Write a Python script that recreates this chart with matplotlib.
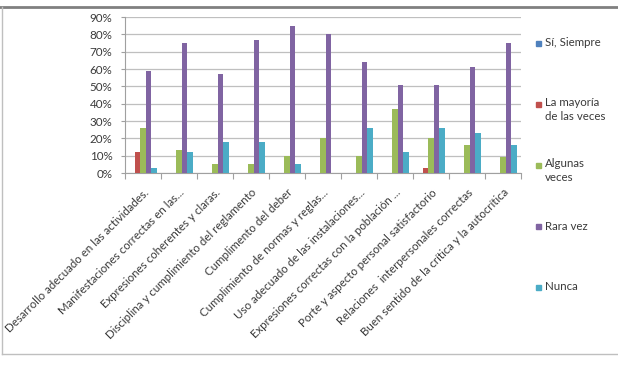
import numpy as np
import matplotlib
matplotlib.use("Agg")
import matplotlib.pyplot as plt
from matplotlib.patches import Rectangle
from matplotlib.lines import Line2D

plt.rcParams['font.family'] = ['Lato', 'DejaVu Sans']

categories = [
    "Desarrollo adecuado en las actividades.",
    "Manifestaciones correctas en las...",
    "Expresiones coherentes y claras.",
    "Disciplina y cumplimiento del reglamento",
    "Cumplimento del deber",
    "Cumplimiento de normas y reglas...",
    "Uso adecuado de las instalaciones...",
    "Expresiones correctas con la población ...",
    "Porte y aspecto personal satisfactorio",
    "Relaciones  interpersonales correctas",
    "Buen sentido de la crítica y la autocrítica",
]
series_names = ["Sí, Siempre", "La mayoría\nde las veces", "Algunas\nveces", "Rara vez", "Nunca"]
si_siempre = [0, 0, 0, 0, 0, 0, 0, 0, 0, 0, 0]
la_mayoria = [12, 0, 0, 0, 0, 0, 0, 0, 3, 0, 0]
algunas    = [26, 13, 5, 5, 10, 20, 10, 37, 20, 16, 9]
rara_vez   = [59, 75, 57, 77, 85, 80, 64, 51, 51, 61, 75]
nunca      = [3, 12, 18, 18, 5, 0, 26, 12, 26, 23, 16]
colors = ["#4F81BD", "#C0504D", "#9BBB59", "#8064A2", "#4BACC6"]

series = [si_siempre, la_mayoria, algunas, rara_vez, nunca]
txt = "#3A3A3A"

fig = plt.figure(figsize=(6.18, 3.92), dpi=100)
ax = fig.add_axes([125/618, 1 - 173/392, (521-125)/618, (173-17)/392])

x = np.arange(len(categories))
w = 0.153
for i, (vals, c) in enumerate(zip(series, colors)):
    ax.bar(x + (i - 2) * w, np.array(vals) / 100, width=w, color=c, zorder=3)

ax.set_xlim(-0.5, len(categories) - 0.5)
ax.set_ylim(0, 0.9)
ax.set_yticks(np.arange(0, 0.91, 0.1))
ax.set_yticklabels([f"{int(round(v*100))}%" for v in np.arange(0, 0.91, 0.1)], fontsize=8.4, color=txt)
ax.yaxis.grid(True, color="#BFBFBF", linewidth=0.9, zorder=0)
ax.tick_params(axis='y', length=3, color="#A0A0A0", pad=6)

ax.set_xticks(np.arange(-0.5, len(categories)), minor=False)
ax.set_xticklabels([])
ax.set_xticks(x, minor=True)
ax.set_xticklabels(categories, minor=True, rotation=45, ha='right', va='top',
                   rotation_mode='anchor', fontsize=8.3, color=txt)
ax.tick_params(axis='x', which='major', length=4, color="#A0A0A0")
ax.tick_params(axis='x', which='minor', length=0, pad=10)

for s in ['top', 'right']:
    ax.spines[s].set_visible(False)
ax.spines['left'].set_color("#A0A0A0")
ax.spines['bottom'].set_color("#A0A0A0")

# legend, spread like the original
for i, (name, c) in enumerate(zip(series_names, colors)):
    yp = 1 - (43 + 61 * i) / 392
    fig.add_artist(Rectangle((536/618, yp - 2.5/392), 5/618, 5/392,
                             transform=fig.transFigure, color=c))
    if '\n' in name:
        fig.text(545/618, yp + 7/392, name, fontsize=8.3, color=txt, va='top', linespacing=1.3)
    else:
        fig.text(545/618, yp, name, fontsize=8.3, color=txt, va='center')

# chart border
fig.add_artist(Line2D([0, 1], [1 - 7/392, 1 - 7/392], color="#808080", lw=2, transform=fig.transFigure))
fig.add_artist(Line2D([2/618, 2/618], [1 - 7/392, 1 - 354/392], color="#BFBFBF", lw=1, transform=fig.transFigure))
fig.add_artist(Line2D([2/618, 1], [1 - 354/392, 1 - 354/392], color="#BFBFBF", lw=1, transform=fig.transFigure))

fig.savefig("out.png", dpi=100)
